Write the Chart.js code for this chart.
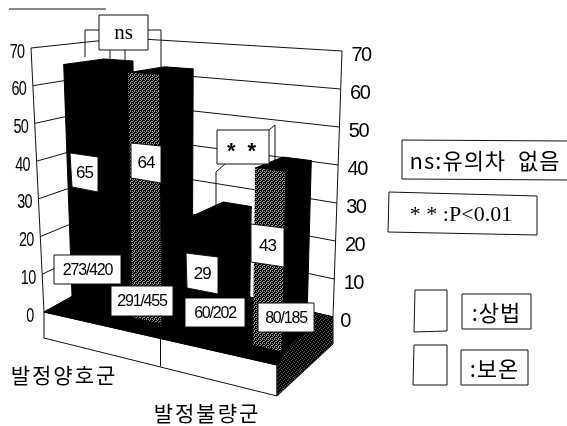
<!DOCTYPE html>
<html>
<head>
<meta charset="utf-8">
<style>
  html, body { margin: 0; padding: 0; background: #fff; }
  #grafica { display: block; }
</style>
<script src="https://cdn.jsdelivr.net/npm/chart.js@4"></script>
</head>
<body>
<div style="width:567px;height:426px"><canvas id="grafica" width="567" height="426"></canvas></div>
<script>
// Datos
const categorias = ["발정양호군", "발정불량군"];
const serieNombres = ["상법", "보온"];
const valoresSangbeop = [65, 29];
const valoresBoon = [64, 43];
const cuentasSangbeop = ["273/420", "60/202"];
const cuentasBoon = ["291/455", "80/185"];
const ticks = [0, 10, 20, 30, 40, 50, 60, 70];

// Esquinas de la caja 3D: suelo y altura maxima
const suelo = { L: [44, 312], F: [277, 365], B: [125, 267], R: [333, 317] };
const techo = { L: [31, 48], F: [283, 62], B: [125, 38], R: [342, 51] };
const profFrente = 0.24, profFondo = 0.68;

function mezcla(c, u, w) {
  const pesos = [(1 - u) * (1 - w), u * (1 - w), (1 - u) * w, u * w];
  const puntos = [c.L, c.F, c.B, c.R];
  let x = 0, y = 0;
  puntos.forEach((p, i) => { x += p[0] * pesos[i]; y += p[1] * pesos[i]; });
  return [x, y];
}

// Proyeccion: u a lo largo del eje de categorias, w en profundidad, f = fraccion de altura
function proyectar(u, w, f) {
  const a = mezcla(suelo, u, w), b = mezcla(techo, u, w);
  return [a[0] + (b[0] - a[0]) * f, a[1] + (b[1] - a[1]) * f];
}

function poligono(ctx, puntos, relleno, borde) {
  ctx.beginPath();
  puntos.forEach((p, i) => (i ? ctx.lineTo(p[0], p[1]) : ctx.moveTo(p[0], p[1])));
  ctx.closePath();
  if (relleno) { ctx.fillStyle = relleno; ctx.fill(); }
  if (borde) { ctx.strokeStyle = borde; ctx.lineWidth = 1; ctx.stroke(); }
}

function linea(ctx, puntos) {
  ctx.beginPath();
  puntos.forEach((p, i) => (i ? ctx.lineTo(p[0], p[1]) : ctx.moveTo(p[0], p[1])));
  ctx.strokeStyle = "#111";
  ctx.lineWidth = 1;
  ctx.stroke();
}

// Trama de puntos como la del escaneo
function trama(ctx, filas, claro) {
  const c = document.createElement("canvas");
  c.width = filas[0].length;
  c.height = filas.length;
  const t = c.getContext("2d");
  filas.forEach((fila, y) => {
    [...fila].forEach((s, x) => {
      t.fillStyle = s === "1" ? "#000" : claro;
      t.fillRect(x, y, 1, 1);
    });
  });
  return ctx.createPattern(c, "repeat");
}

function texto(ctx, s, x, y, fuente, espacio, escala) {
  ctx.save();
  ctx.font = fuente;
  ctx.letterSpacing = espacio || "0px";
  ctx.fillStyle = "#000";
  ctx.textAlign = "center";
  ctx.textBaseline = "middle";
  ctx.translate(x, y);
  ctx.scale(escala || 1, 1);
  ctx.fillText(s, 0, 0);
  ctx.restore();
}

function caja(ctx, esquinas, s, fuente, espacio) {
  poligono(ctx, esquinas, "#fff", "#111");
  if (!s) return;
  const cx = esquinas.reduce((a, p) => a + p[0], 0) / esquinas.length;
  const cy = esquinas.reduce((a, p) => a + p[1], 0) / esquinas.length;
  texto(ctx, s, cx, cy + 1, fuente, espacio);
}

function rect(x0, y0, x1, y1) {
  return [[x0, y0], [x1, y0], [x1, y1], [x0, y1]];
}

const barras3d = {
  id: "barras3d",
  beforeDatasetsDraw(chart) {
    const ctx = chart.ctx;
    const area = chart.chartArea;
    const ejeY = chart.scales.y;
    const base = ejeY.getPixelForValue(0);
    const alto = v => (base - ejeY.getPixelForValue(v)) / (base - ejeY.getPixelForValue(70));
    const gris = trama(ctx, ["1011", "0110", "1101", "0101"], "#999");
    const oscuro = trama(ctx, ["1110", "1011", "1101", "0111"], "#555");

    // Rejilla de las paredes
    ticks.forEach(v => {
      const f = alto(v);
      linea(ctx, [proyectar(0, 0, f), proyectar(0, 1, f), proyectar(1, 1, f)]);
    });
    linea(ctx, [proyectar(0, 0, 0), proyectar(0, 0, 1)]);
    linea(ctx, [proyectar(1, 1, 0), proyectar(1, 1, 1)]);
    linea(ctx, [proyectar(0, 1, 0), proyectar(0, 1, 1)]);

    // Peana y suelo
    const L = suelo.L, F = suelo.F, R = suelo.R, B = suelo.B;
    const Lb = [L[0], L[1] + 26], Fb = [F[0], F[1] + 31], Rb = [R[0], R[1] + 27];
    poligono(ctx, [L, F, Fb, Lb], "#fff", "#111");
    poligono(ctx, [L, B, R, F], "#000", "#000");
    poligono(ctx, [F, [313, 313], R, Rb, Fb], oscuro, "#111");
    const medio = proyectar(0.5, 0, 0);
    linea(ctx, [medio, [medio[0], medio[1] + 28]]);

    // Barras, de atras hacia delante
    const elementos = [];
    chart.data.labels.forEach((_, i) => {
      chart.data.datasets.forEach((d, j) => {
        elementos.push({ barra: chart.getDatasetMeta(j).data[i], frente: j === 0 ? "#000" : gris });
      });
    });
    const posU = x => (x - area.left) / area.width * 1.06 - 0.03;
    elementos.forEach(({ barra, frente }) => {
      const u0 = posU(barra.x - barra.width / 2);
      const u1 = posU(barra.x + barra.width / 2);
      const f = (base - barra.y) / (base - ejeY.getPixelForValue(70));
      const w0 = profFrente, w1 = profFondo;
      poligono(ctx, [proyectar(u1, w0, 0), proyectar(u1, w1, 0), proyectar(u1, w1, f), proyectar(u1, w0, f)], "#000", "#000");
      poligono(ctx, [proyectar(u0, w0, f), proyectar(u0, w1, f), proyectar(u1, w1, f), proyectar(u1, w0, f)], "#000", "#000");
      poligono(ctx, [proyectar(u0, w0, 0), proyectar(u1, w0, 0), proyectar(u1, w0, f), proyectar(u0, w0, f)], frente, frente === "#000" ? "#000" : null);
    });
  },
  beforeDatasetDraw() {
    return false; // las barras ya van en 3D
  },
  afterDatasetsDraw(chart) {
    const ctx = chart.ctx;
    const ejeY = chart.scales.y;
    const base = ejeY.getPixelForValue(0);
    const tope = ejeY.getPixelForValue(70);

    // Numeros de los ejes, tambien inclinados
    ticks.forEach(v => {
      const f = (base - ejeY.getPixelForValue(v)) / (base - tope);
      const izq = proyectar(0, 0, f), der = proyectar(1, 1, f);
      texto(ctx, String(v), izq[0] - 14, izq[1] + 4, "20px 'Liberation Sans'", "-1px", 0.72);
      texto(ctx, String(v), der[0] + (v === 0 ? 12 : 19), der[1] + 4, "20px 'Liberation Sans'", "-1.5px");
    });

    // Corchete ns
    linea(ctx, [[85, 57], [85, 30], [99, 30]]);
    linea(ctx, [[148, 30], [161, 30], [161, 68]]);
    linea(ctx, [[110, 50], [110, 60]]);
    caja(ctx, rect(99, 15, 148, 50), "ns", "21px 'Liberation Serif'");

    // Corchete **
    linea(ctx, [[225, 164], [216, 172], [216, 205]]);
    linea(ctx, [[269, 130], [275, 125], [275, 160], [269, 164]]);
    poligono(ctx, rect(217, 130, 269, 164), "#fff", "#111");
    texto(ctx, "* *", 243, 152, "bold 22px 'Liberation Sans'", "3px");

    // Etiquetas de porcentaje
    const cajasValor = [
      [[70, 153], [98, 157], [98, 192], [72, 187]],
      [[186, 253], [218, 257], [218, 294], [187, 288]],
      [[131, 143], [161, 146], [161, 183], [131, 178]],
      [[251, 224], [284, 228], [284, 267], [251, 262]],
    ];
    const cajasCuenta = [
      rect(54, 255, 121, 284), rect(185, 298, 245, 327),
      rect(111, 286, 173, 316), rect(258, 303, 314, 332),
    ];
    const valores = [...valoresSangbeop, ...valoresBoon];
    const cuentas = [...cuentasSangbeop, ...cuentasBoon];
    valores.forEach((v, i) => {
      caja(ctx, cajasValor[i], String(v), "17px 'Liberation Sans'", "-1px");
      caja(ctx, cajasCuenta[i], cuentas[i], "16px 'Liberation Sans'", "-1.2px");
    });

    // Raya suelta de arriba
    linea(ctx, [[9, 9], [106, 9]]);

    // Categorias
    texto(ctx, categorias[0], 64, 375, "21px 'Noto Sans CJK KR'", "2px");
    texto(ctx, categorias[1], 207, 413, "21px 'Noto Sans CJK KR'", "2px");

    // Leyendas
    caja(ctx, [[402, 140], [568, 141], [568, 180], [402, 179]], "ns:유의차  없음", "22px 'Noto Sans CJK KR'", "1px");
    poligono(ctx, [[389, 192], [537, 196], [537, 235], [388, 232]], "#fff", "#111");
    texto(ctx, "* * :P<0.01", 461, 215, "22px 'Liberation Serif'");
    caja(ctx, [[415, 290], [447, 290], [447, 331], [414, 332]]);
    caja(ctx, [[414, 345], [447, 345], [447, 385], [413, 385]]);
    caja(ctx, rect(462, 294, 531, 329), ":" + serieNombres[0], "22px 'Noto Sans CJK KR'", "1px");
    caja(ctx, rect(461, 350, 528, 385), ":" + serieNombres[1], "22px 'Noto Sans CJK KR'", "1px");
  },
};

new Chart(document.getElementById("grafica"), {
  type: "bar",
  data: {
    labels: categorias,
    datasets: [
      { label: serieNombres[0], data: valoresSangbeop, backgroundColor: "#000" },
      { label: serieNombres[1], data: valoresBoon, backgroundColor: "#666" },
    ],
  },
  options: {
    responsive: false,
    animation: false,
    devicePixelRatio: 1,
    layout: { padding: { left: 44, right: 234, top: 48, bottom: 114 } },
    categoryPercentage: 1,
    barPercentage: 0.48,
    plugins: { legend: { display: false }, tooltip: { enabled: false } },
    scales: {
      x: { display: false },
      y: { display: false, min: 0, max: 70 },
    },
  },
  plugins: [barras3d],
});
</script>
</body>
</html>
